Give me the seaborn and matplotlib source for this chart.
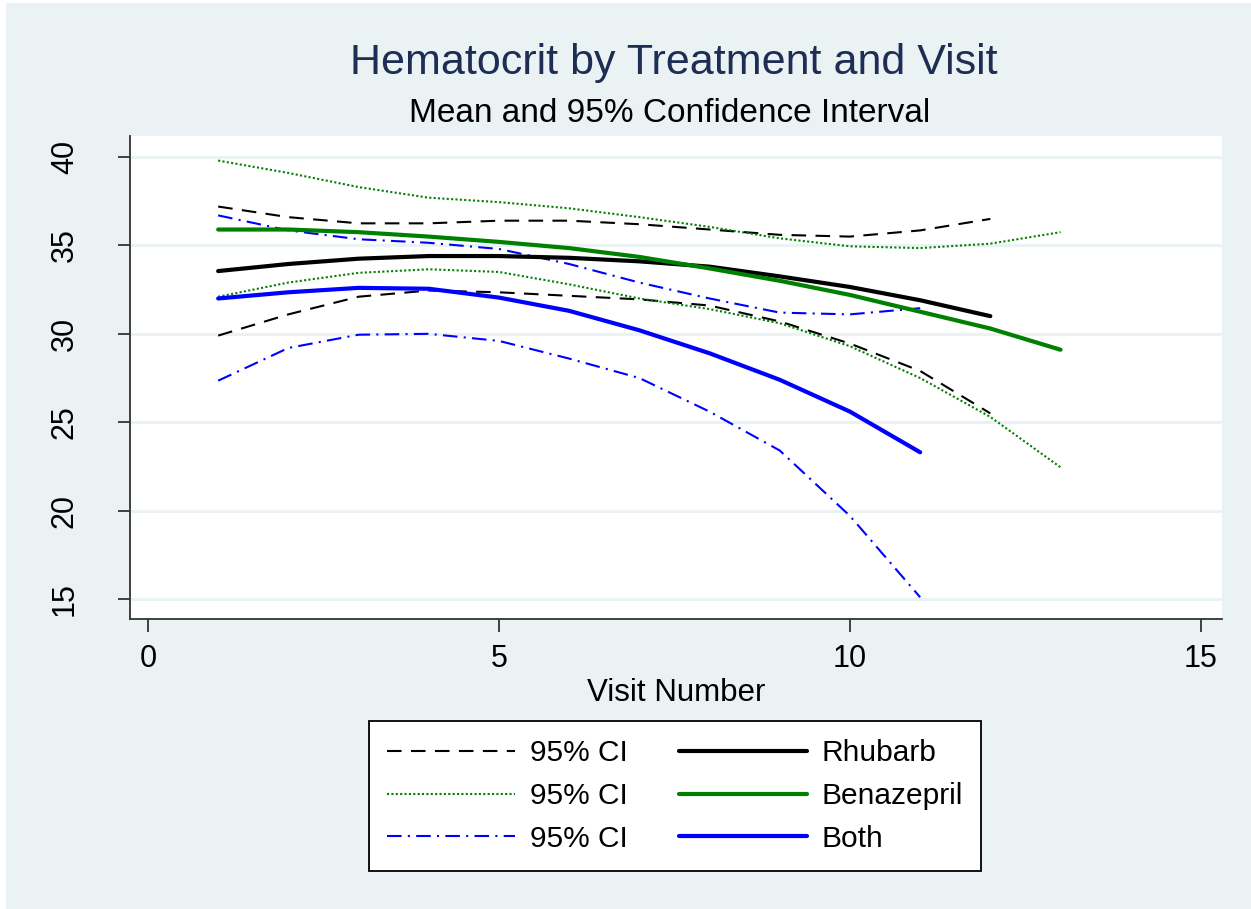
import numpy as np
import pandas as pd
import matplotlib
matplotlib.use("Agg")
import matplotlib.pyplot as plt
from matplotlib.patches import Rectangle
import seaborn as sns

# 読み取った値（visitごと）
visits_rhubarb = [1, 2, 3, 4, 5, 6, 7, 8, 9, 10, 11, 12]
rhubarb_mean = [33.55, 33.95, 34.25, 34.4, 34.4, 34.3, 34.1, 33.8, 33.25, 32.65, 31.9, 31.0]
rhubarb_upper = [37.2, 36.6, 36.25, 36.25, 36.4, 36.4, 36.2, 35.9, 35.6, 35.5, 35.85, 36.5]
rhubarb_lower = [29.9, 31.1, 32.1, 32.45, 32.35, 32.15, 31.95, 31.6, 30.7, 29.45, 27.9, 25.5]

visits_benaz = [1, 2, 3, 4, 5, 6, 7, 8, 9, 10, 11, 12, 13]
benaz_mean = [35.9, 35.9, 35.75, 35.5, 35.2, 34.85, 34.35, 33.7, 33.0, 32.2, 31.25, 30.3, 29.1]
benaz_upper = [39.8, 39.1, 38.3, 37.7, 37.45, 37.1, 36.6, 36.05, 35.4, 34.95, 34.85, 35.1, 35.75]
benaz_lower = [32.1, 32.9, 33.45, 33.65, 33.5, 32.8, 32.0, 31.4, 30.6, 29.3, 27.5, 25.3, 22.45]

visits_both = [1, 2, 3, 4, 5, 6, 7, 8, 9, 10, 11]
both_mean = [32.0, 32.35, 32.6, 32.55, 32.05, 31.3, 30.2, 28.9, 27.4, 25.6, 23.3]
both_upper = [36.7, 35.85, 35.35, 35.15, 34.8, 33.95, 32.9, 32.0, 31.2, 31.1, 31.45]
both_lower = [27.35, 29.2, 29.95, 30.0, 29.6, 28.6, 27.5, 25.6, 23.4, 19.7, 15.1]

x_ticks = [0, 5, 10, 15]
y_ticks = [15, 20, 25, 30, 35, 40]

BG = "#EAF2F3"

sns.set_theme(style="white")
plt.rcParams['font.family'] = ['Liberation Sans', 'DejaVu Sans']

fig = plt.figure(figsize=(12.51, 9.09), dpi=100)
fig.patch.set_facecolor("white")
fig.patches.append(Rectangle((6 / 1251, 0), 1, (909 - 3) / 909, transform=fig.transFigure,
                             facecolor=BG, edgecolor="none", zorder=-10))

ax = fig.add_axes([130 / 1251, (909 - 619) / 909, (1222 - 130) / 1251, (619 - 136) / 909])
ax.set_facecolor("white")

ci_lw = 1.5
mean_lw = 3.0

series = [
    # (x, y, color, dashes, lw, label)
    (visits_rhubarb, rhubarb_upper, "black", (7, 4.5), ci_lw, "95% CI"),
    (visits_benaz, benaz_upper, "#008000", (1, 1.1), ci_lw, "95% CI"),
    (visits_both, both_upper, "#0000FF", (7, 3, 1, 3), ci_lw, "95% CI"),
    (visits_rhubarb, rhubarb_mean, "black", None, mean_lw, "Rhubarb"),
    (visits_benaz, benaz_mean, "#008000", None, mean_lw, "Benazepril"),
    (visits_both, both_mean, "#0000FF", None, mean_lw, "Both"),
]
lowers = [rhubarb_lower, benaz_lower, both_lower]

handles = []
for i, (xs, ys, col, dash, lw, lab) in enumerate(series):
    kw = dict(color=col, linewidth=lw, ax=ax)
    if dash is not None:
        kw["dashes"] = dash
    sns.lineplot(x=xs, y=ys, **kw)
    handles.append(ax.lines[-1])
    if i < 3:
        sns.lineplot(x=xs, y=lowers[i], **kw)

for h, s in zip(handles, series):
    h.set_label(s[5])

ax.set_xlim(-0.256, 15.3)
ax.set_ylim(13.87, 41.19)
ax.set_xticks(x_ticks)
ax.set_yticks(y_ticks)
ax.grid(axis="y", color=BG, linewidth=2.2)
ax.grid(axis="x", visible=False)
ax.set_axisbelow(True)

for side in ["top", "right"]:
    ax.spines[side].set_visible(False)
for side in ["left", "bottom"]:
    ax.spines[side].set_color("#333333")
    ax.spines[side].set_linewidth(1.3)

ax.tick_params(axis="both", which="major", length=9, width=1.3, color="#333333",
               labelsize=22, labelcolor="black", direction="out")
ax.tick_params(axis="x", pad=9, bottom=True)
ax.tick_params(axis="y", pad=27, left=True)
for lbl in ax.get_yticklabels():
    lbl.set_rotation(90)
    lbl.set_va("center")

ax.set_xlabel("Visit Number", fontsize=22.5, labelpad=3, color="black")
ax.set_ylabel("")

fig.text(674 / 1251, 1 - 63 / 909, "Hematocrit by Treatment and Visit", ha="center", va="center",
         fontsize=31, color="#1E2D54")
fig.text(670 / 1251, 1 - 113 / 909, "Mean and 95% Confidence Interval", ha="center", va="center",
         fontsize=24, color="black")

leg = fig.legend(handles=handles, ncol=2, loc="center",
                 bbox_to_anchor=(675 / 1251, 1 - 796 / 909),
                 fontsize=21.5, frameon=True, fancybox=False, framealpha=1,
                 handlelength=4.3, handletextpad=0.5, columnspacing=1.7,
                 labelspacing=0.5, borderpad=0.6, labelcolor="black")
leg.get_frame().set_edgecolor("black")
leg.get_frame().set_linewidth(1.3)
leg.get_frame().set_facecolor("white")

fig.savefig("out.png", dpi=100, facecolor=fig.get_facecolor())
